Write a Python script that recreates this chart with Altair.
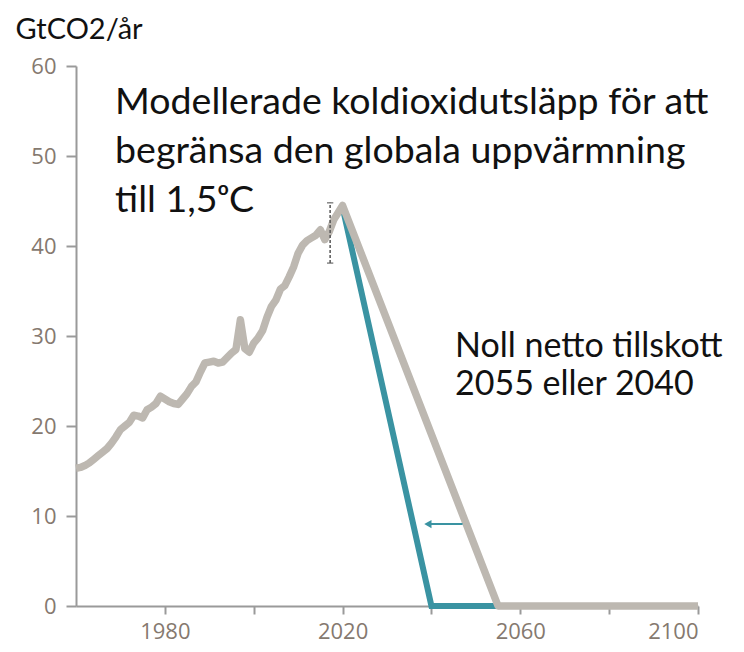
import altair as alt
import pandas as pd

# Historical emissions (GtCO2/yr)
hist_years = list(range(1960, 2021))
hist_values = [
    15.3, 15.4, 15.6, 15.9, 16.3, 16.7, 17.1, 17.5, 18.1, 18.8,
    19.6, 20.0, 20.4, 21.2, 21.1, 20.9, 21.8, 22.1, 22.5, 23.3,
    23.0, 22.7, 22.5, 22.4, 23.0, 23.6, 24.4, 24.9, 26.0, 27.0,
    27.1, 27.2, 27.0, 27.1, 27.6, 28.1, 28.5, 31.8, 28.6, 28.2,
    29.2, 29.8, 30.6, 32.1, 33.3, 34.0, 35.2, 35.6, 36.6, 37.7,
    39.2, 40.1, 40.6, 40.9, 41.2, 41.8, 40.7, 41.6, 42.9, 43.7,
    44.5,
]
# Pathway reaching net zero 2055 (grey) and 2040 (teal)
gray_future_years = [2055, 2100]
gray_future_values = [0, 0]
teal_years = [2020, 2040, 2055]
teal_values = [44.3, 0, 0]

# Uncertainty bar
err_year = [2017.2]
err_low = [38.1]
err_high = [44.8]

# Arrow
arrow_from = [2047.0]
arrow_to = [2039.2]
arrow_y = [9.1]

title_lines = ["Modellerade koldioxidutsläpp för att",
               "begränsa den globala uppvärmning",
               "till 1,5ᵒC"]
title_x = [1968.8, 1968.8, 1968.8]
title_y = [54.67, 49.22, 43.78]

note_lines = ["Noll netto tillskott", "2055 eller 2040"]
note_x = [2045.3, 2045.3]
note_y = [27.67, 23.44]

unit_label = ["GtCO2/år"]
unit_x = [1946.4]
unit_y = [63.0]

gray_df = pd.DataFrame({"year": hist_years + gray_future_years,
                        "value": hist_values + gray_future_values})
teal_df = pd.DataFrame({"year": teal_years, "value": teal_values})
err_df = pd.DataFrame({"year": err_year, "low": err_low, "high": err_high})
caps_df = pd.DataFrame({"year": err_year * 2, "value": err_low + err_high})
arrow_df = pd.DataFrame({"x1": arrow_from, "x2": arrow_to, "y": arrow_y})
title_df = pd.DataFrame({"x": title_x, "y": title_y, "t": title_lines})
note_df = pd.DataFrame({"x": note_x, "y": note_y, "t": note_lines})
unit_df = pd.DataFrame({"x": unit_x, "y": unit_y, "t": unit_label})

axis_color = "#9a9a9a"
label_color = "#85796f"

xs = alt.Scale(domain=[1960, 2100], nice=False, zero=False)
ys = alt.Scale(domain=[0, 60], nice=False)

x_axis = alt.Axis(values=list(range(1980, 2101, 20)), format="d",
                  labelExpr="datum.value % 40 == 20 ? datum.label : ''",
                  grid=False, tickSize=8, labelPadding=7, title=None)
y_axis = alt.Axis(values=list(range(0, 61, 10)), grid=False,
                  tickSize=10, labelPadding=10, title=None)

base_x = alt.X("year:Q", scale=xs, axis=x_axis)
base_y = alt.Y("value:Q", scale=ys, axis=y_axis)

teal = alt.Chart(teal_df).mark_line(color="#3a93a2", strokeWidth=6,
                                    strokeJoin="miter").encode(x=base_x, y=base_y)
gray = alt.Chart(gray_df).mark_line(color="#bdb8b1", strokeWidth=7.5,
                                    strokeJoin="round").encode(x=base_x, y=base_y)

err = alt.Chart(err_df).mark_rule(color="#555555", strokeWidth=1.5,
                                  strokeDash=[3, 2]).encode(
    x=alt.X("year:Q", scale=xs), y=alt.Y("low:Q", scale=ys), y2="high:Q")
caps = alt.Chart(caps_df).mark_point(shape="stroke", size=40, color="#555555",
                                     strokeWidth=1.5).encode(
    x=alt.X("year:Q", scale=xs), y=alt.Y("value:Q", scale=ys))

arrow_line = alt.Chart(arrow_df).mark_rule(color="#3a93a2", strokeWidth=2).encode(
    x=alt.X("x1:Q", scale=xs), x2="x2:Q", y=alt.Y("y:Q", scale=ys))
arrow_head = alt.Chart(arrow_df).mark_point(shape="triangle-left", size=70,
                                            filled=True, color="#3a93a2",
                                            opacity=1).encode(
    x=alt.X("x2:Q", scale=xs), y=alt.Y("y:Q", scale=ys))

title_txt = alt.Chart(title_df).mark_text(align="left", baseline="alphabetic",
                                          font="Lato", fontSize=37.5,
                                          color="#111111").encode(
    x=alt.X("x:Q", scale=xs), y=alt.Y("y:Q", scale=ys), text="t:N")
note_txt = alt.Chart(note_df).mark_text(align="left", baseline="alphabetic",
                                        font="Lato", fontSize=34,
                                        color="#111111").encode(
    x=alt.X("x:Q", scale=xs), y=alt.Y("y:Q", scale=ys), text="t:N")
unit_txt = alt.Chart(unit_df).mark_text(align="left", baseline="alphabetic",
                                        font="Lato", fontSize=29,
                                        color="#111111").encode(
    x=alt.X("x:Q", scale=xs), y=alt.Y("y:Q", scale=ys), text="t:N")

chart = alt.layer(teal, gray, err, caps, arrow_line, arrow_head,
                  title_txt, note_txt, unit_txt).properties(
    width=622, height=540,
    autosize=alt.AutoSizeParams(type="none"),
    padding={"left": 68, "top": 58, "right": 38, "bottom": 38},
).configure(background="white").configure_view(stroke=None).configure_axis(
    domainColor=axis_color, domainWidth=2, tickColor=axis_color, tickWidth=2,
    labelColor=label_color, labelFontSize=22, labelFont="Open Sans",
)

chart.save("out.html", embed_options={"renderer": "svg", "actions": False})
